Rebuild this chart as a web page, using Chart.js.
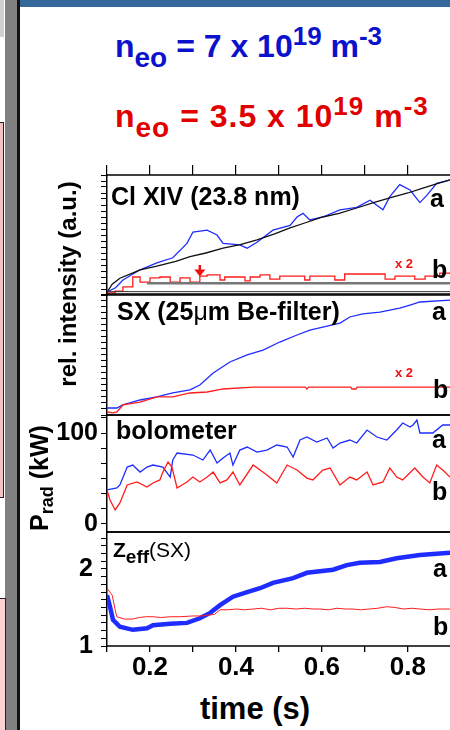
<!DOCTYPE html>
<html>
<head>
<meta charset="utf-8">
<script src="https://cdn.jsdelivr.net/npm/chart.js@4.4.0/dist/chart.umd.min.js"></script>
<style>
  html, body { margin: 0; padding: 0; background: #fff; }
  body { width: 450px; height: 730px; position: relative; overflow: hidden;
         font-family: "Liberation Sans", Arial, Helvetica, sans-serif; }
  canvas { position: absolute; left: 0; }
  .deco { position: absolute; }
  .t { position: absolute; white-space: nowrap; line-height: 1; font-weight: bold; color: #000; }
  .title { font-size: 32px; }
  .title .sub { font-size: 28px; position: relative; top: 10px; }
  .title .sup { font-size: 26px; position: relative; top: -12px; }
  .lab { font-size: 25px; }
  .ab { font-size: 25px; }
  .x2 { font-size: 13px; color: #ee1111; }
  .rot { transform: rotate(-90deg); text-align: center; }
</style>
</head>
<body>

<!-- slide chrome on the left and top -->
<div class="deco" style="left:0;top:0;width:4px;height:37px;background:#cfcfcf"></div>
<div class="deco" style="left:5px;top:0;width:13px;height:730px;background:#808080"></div>
<div class="deco" style="left:17px;top:0;width:2.5px;height:730px;background:#111"></div>
<div class="deco" style="left:-3px;top:122px;width:5px;height:374px;border:1.5px solid #222;background:#f0c4c4"></div>
<div class="deco" style="left:-3px;top:598px;width:7px;height:140px;border:1.5px solid #222;background:#fcd2d2"></div>
<div class="deco" style="left:20px;top:0;width:430px;height:7px;background:#34679a"></div>

<div class="t title" style="left:115px;top:30px;color:#0c12cc">n<span class="sub">eo</span> = 7 x 10<span class="sup">19</span> m<span class="sup">-3</span></div>
<div class="t title" style="left:115px;top:100px;color:#e00000;letter-spacing:1px">n<span class="sub">eo</span> = 3.5 x 10<span class="sup">19</span> m<span class="sup">-3</span></div>

<canvas id="pCl" width="450" height="139" style="top:160px"></canvas>
<canvas id="pSx" width="450" height="129" style="top:290px"></canvas>
<canvas id="pBolo" width="450" height="125" style="top:411px"></canvas>
<canvas id="pZeff" width="450" height="154" style="top:528px"></canvas>

<!-- panel captions -->
<div class="t lab" style="left:111px;top:184px">Cl XIV (23.8 nm)</div>
<div class="t lab" style="left:117px;top:299px">SX (25<span style="font-weight:normal">μ</span>m Be-filter)</div>
<div class="t lab" style="left:116px;top:418px">bolometer</div>
<div class="t" style="left:113px;top:539px;font-size:21px">Z<span style="font-size:19px;position:relative;top:6px">eff</span><span style="font-weight:normal;font-size:21px">(SX)</span></div>

<div class="t ab" style="left:430px;top:186px">a</div>
<div class="t ab" style="left:432px;top:257px">b</div>
<div class="t ab" style="left:432px;top:299px">a</div>
<div class="t ab" style="left:433px;top:377px">b</div>
<div class="t ab" style="left:432px;top:427px">a</div>
<div class="t ab" style="left:432px;top:479px">b</div>
<div class="t ab" style="left:433px;top:556px">a</div>
<div class="t ab" style="left:433px;top:614px">b</div>

<div class="t x2" style="left:395px;top:257px">x 2</div>
<div class="t x2" style="left:395px;top:366px">x 2</div>

<!-- axis titles -->
<div class="t rot" style="left:-47px;top:269px;width:230px;height:30px;line-height:30px;font-size:24px">rel. intensity (a.u.)</div>
<div class="t rot" style="left:-21px;top:463px;width:120px;height:30px;line-height:30px;font-size:25px">P<span style="font-size:18px;position:relative;top:5px">rad</span> (kW)</div>
<div class="t" style="left:155px;top:693px;width:200px;text-align:center;font-size:31px">time (s)</div>

<script>
/* time axis shared by all panels (s) */
const tMin = 0.1, tMax = 0.898;

/* Cl XIV line intensity, a.u. (black = reference trace) */
const clRefT = [0.100, 0.105, 0.112, 0.130, 0.177, 0.216, 0.260, 0.293, 0.330, 0.370, 0.410, 0.449, 0.490, 0.526, 0.560, 0.602, 0.640, 0.681, 0.720, 0.758, 0.800, 0.835, 0.870, 0.898];
const clRefY = [2.5, 5, 9, 14, 21, 24, 28, 32, 35, 39, 42, 46, 51, 56, 60, 65, 68, 72.5, 77, 81, 85, 89, 93, 96];
const clBlueT = [0.100, 0.120, 0.137, 0.177, 0.216, 0.253, 0.286, 0.300, 0.333, 0.356, 0.370, 0.409, 0.426, 0.449, 0.486, 0.526, 0.542, 0.556, 0.572, 0.602, 0.642, 0.681, 0.712, 0.742, 0.758, 0.781, 0.805, 0.828, 0.844, 0.867, 0.891, 0.898];
const clBlueY = [2.5, 6, 12.5, 21, 26.7, 31, 43, 52.5, 54, 50, 43, 41.7, 39, 44, 54, 58, 65, 68, 62.5, 65, 71, 73, 79, 71, 82, 92, 87.5, 77, 83, 93, 95, 96];
const clRedT = [0.100, 0.119, 0.137, 0.160, 0.177, 0.200, 0.223, 0.247, 0.270, 0.293, 0.316, 0.333, 0.363, 0.374, 0.421, 0.433, 0.456, 0.479, 0.502, 0.560, 0.572, 0.630, 0.653, 0.747, 0.770, 0.816, 0.840, 0.874, 0.898];
const clRedY = [1.7, 3.3, 6.7, 15, 10.8, 14.2, 15, 10.8, 14.2, 10.8, 15.8, 16.7, 12.5, 15, 11.7, 15, 16.7, 13.3, 15.8, 12.5, 15.8, 12.5, 17.5, 13.3, 15.8, 13.3, 15.8, 18.3, 17.5];
const clBaseT = [0.193, 0.898];
const clBaseY = [9.7, 9.7];
const clZeroT = [0.100, 0.898];
const clZeroY = [2.8, 2.8];
const arrowT = 0.316, arrowFrom = 25, arrowTo = 15.5;

/* soft X-ray, 25 um Be filter, a.u. */
const sxBlueT = [0.100, 0.123, 0.137, 0.177, 0.216, 0.253, 0.293, 0.316, 0.347, 0.386, 0.426, 0.463, 0.502, 0.542, 0.572, 0.602, 0.642, 0.665, 0.695, 0.735, 0.781, 0.805, 0.828, 0.898];
const sxBlueY = [5.8, 5.8, 8.3, 12.4, 14.9, 18.2, 20.7, 24.8, 34.7, 43.8, 49.6, 53.7, 60.3, 66.1, 70.2, 72.7, 76, 81, 83.5, 85.1, 88.4, 90.9, 93.4, 95];
const sxRedT = [0.100, 0.114, 0.123, 0.137, 0.177, 0.216, 0.253, 0.293, 0.333, 0.370, 0.440, 0.561, 0.565, 0.569, 0.667, 0.670, 0.679, 0.682, 0.898];
const sxRedY = [2.5, 1.7, 2.5, 8.3, 10.7, 14.9, 14.9, 18.2, 19, 21.5, 23.1, 23.1, 21.5, 23.1, 23.1, 21.5, 21.5, 23.1, 23.1];

/* bolometer, P_rad in kW */
const boloBlueT = [0.100, 0.123, 0.130, 0.147, 0.160, 0.177, 0.193, 0.207, 0.230, 0.247, 0.253, 0.263, 0.300, 0.323, 0.340, 0.356, 0.370, 0.386, 0.393, 0.409, 0.426, 0.449, 0.472, 0.495, 0.519, 0.533, 0.549, 0.565, 0.588, 0.612, 0.626, 0.642, 0.665, 0.681, 0.705, 0.728, 0.751, 0.774, 0.788, 0.805, 0.812, 0.821, 0.828, 0.858, 0.881, 0.898];
const boloBlueY = [37.4, 39.6, 42.9, 62.6, 64.8, 57.1, 62.6, 64.8, 62.6, 51.6, 70.3, 78, 75.8, 70.3, 81.3, 67, 72.5, 78, 64.8, 81.3, 84.6, 79.1, 81.3, 86.8, 84.6, 73.6, 92.3, 95.6, 90.1, 94.5, 83.5, 89, 92.3, 89, 103.3, 95.6, 92.3, 103.3, 111, 106.6, 108.8, 114.3, 100, 100, 108.8, 108.8];
const boloRedT = [0.100, 0.107, 0.119, 0.130, 0.147, 0.170, 0.193, 0.207, 0.223, 0.230, 0.242, 0.251, 0.263, 0.286, 0.300, 0.316, 0.333, 0.347, 0.363, 0.379, 0.393, 0.409, 0.440, 0.472, 0.495, 0.519, 0.542, 0.565, 0.579, 0.602, 0.619, 0.642, 0.665, 0.681, 0.705, 0.719, 0.742, 0.758, 0.774, 0.788, 0.816, 0.835, 0.851, 0.867, 0.881, 0.898];
const boloRedY = [37.4, 26.4, 15.4, 23.1, 42.9, 46.2, 40.7, 45.1, 48.4, 57.1, 68.1, 62.6, 39.6, 46.2, 51.6, 46.2, 51.6, 57.1, 45.1, 48.4, 57.1, 42.9, 64.8, 53.8, 45.1, 64.8, 59.3, 50.5, 48.4, 59.3, 61.5, 42.9, 51.6, 48.4, 57.1, 42.9, 46.2, 61.5, 51.6, 48.4, 61.5, 51.6, 45.1, 64.8, 59.3, 51.6];

/* Z_eff from soft X-ray */
const zeffBlueT = [0.100, 0.107, 0.114, 0.130, 0.160, 0.193, 0.207, 0.247, 0.286, 0.316, 0.340, 0.363, 0.393, 0.426, 0.456, 0.486, 0.533, 0.565, 0.626, 0.658, 0.688, 0.735, 0.774, 0.828, 0.898];
const zeffBlueY = [1.66, 1.51, 1.34, 1.25, 1.21, 1.23, 1.27, 1.29, 1.30, 1.36, 1.43, 1.53, 1.64, 1.70, 1.75, 1.82, 1.88, 1.95, 1.99, 2.05, 2.08, 2.09, 2.14, 2.18, 2.21];
const zeffRedT = [0.100, 0.112, 0.119, 0.123, 0.140, 0.160, 0.175, 0.190, 0.207, 0.225, 0.247, 0.270, 0.300, 0.320, 0.333, 0.350, 0.363, 0.380, 0.402, 0.420, 0.440, 0.460, 0.480, 0.500, 0.519, 0.540, 0.560, 0.580, 0.595, 0.615, 0.635, 0.655, 0.672, 0.690, 0.710, 0.730, 0.751, 0.770, 0.790, 0.810, 0.828, 0.850, 0.870, 0.898];
const zeffRedY = [1.75, 1.66, 1.47, 1.38, 1.35, 1.35, 1.37, 1.38, 1.38, 1.37, 1.38, 1.38, 1.39, 1.39, 1.40, 1.41, 1.47, 1.47, 1.48, 1.47, 1.48, 1.49, 1.47, 1.49, 1.49, 1.48, 1.49, 1.48, 1.48, 1.47, 1.49, 1.48, 1.48, 1.47, 1.48, 1.49, 1.51, 1.50, 1.48, 1.49, 1.48, 1.47, 1.48, 1.48];

const BLUE = '#1f2cff', RED = '#ff1c1c', FONT = '"Liberation Sans", Arial, sans-serif';

function pts(ts, ys) { return ts.map((t, i) => ({ x: t, y: ys[i] })); }
function line(ts, ys, color, width, extra) {
  return Object.assign({ data: pts(ts, ys), borderColor: color, borderWidth: width,
    pointRadius: 0, tension: 0, fill: false }, extra || {});
}
function range(a, b, step) {
  const out = [];
  for (let v = a; v <= b + 1e-9; v += step) out.push(+v.toFixed(4));
  return out;
}

/* ticks every 0.1 s */
function timeTicks(scale) {
  scale.ticks = range(0.1, 0.9, 0.1).filter(v => v <= scale.max + 1e-9).map(v => ({ value: v }));
}

/* black frame lines above and below each panel */
const framePlugin = {
  id: 'frame',
  afterDatasetsDraw(chart) {
    const a = chart.chartArea, ctx = chart.ctx;
    ctx.save();
    ctx.strokeStyle = '#000';
    ctx.lineWidth = 1.5;
    ctx.beginPath();
    ctx.moveTo(a.left, a.top); ctx.lineTo(a.right, a.top);
    ctx.moveTo(a.left, a.bottom); ctx.lineTo(a.right, a.bottom);
    ctx.stroke();
    ctx.restore();
  }
};

/* red arrow marking the onset on the Cl XIV trace */
const arrowPlugin = {
  id: 'arrow',
  afterDatasetsDraw(chart) {
    const x = chart.scales.x.getPixelForValue(arrowT);
    const y0 = chart.scales.y.getPixelForValue(arrowFrom);
    const y1 = chart.scales.y.getPixelForValue(arrowTo);
    const ctx = chart.ctx;
    ctx.save();
    ctx.strokeStyle = ctx.fillStyle = '#ee1111';
    ctx.lineWidth = 2.5;
    ctx.beginPath(); ctx.moveTo(x, y0); ctx.lineTo(x, y1 - 5); ctx.stroke();
    ctx.beginPath(); ctx.moveTo(x - 5.5, y1 - 7); ctx.lineTo(x + 5.5, y1 - 7); ctx.lineTo(x, y1); ctx.closePath(); ctx.fill();
    ctx.restore();
  }
};

function makePanel(id, p) {
  const scales = {
    x: {
      type: 'linear', min: tMin, max: tMax, position: 'bottom',
      display: p.xAxis === 'bottom',
      afterBuildTicks: timeTicks,
      afterFit: s => {
        s.height = p.xAxis === 'bottom' ? 36 : 0;
        s.paddingLeft = 0; s.paddingRight = 0;
      },
      grid: { drawOnChartArea: false, tickLength: 6, color: '#000', lineWidth: 1.3 },
      border: { display: false },
      ticks: {
        autoSkip: false, maxRotation: 0, padding: 0, color: '#000',
        font: { family: FONT, size: 26, weight: 'bold' },
        callback: v => (Math.round(v * 10) % 2 === 0 ? v.toFixed(1) : '')
      }
    },
    y: {
      type: 'linear', min: p.yMin, max: p.yMax,
      afterBuildTicks: s => { s.ticks = p.yTicks.map(v => ({ value: v })); },
      afterFit: s => { s.width = 107; s.paddingTop = 0; s.paddingBottom = 0; },
      grid: { drawOnChartArea: false, tickLength: 6, color: '#000', lineWidth: 1 },
      border: { display: true, color: '#000', width: 1.5 },
      ticks: {
        autoSkip: false, padding: p.yPad || 4, color: '#000',
        font: { family: FONT, size: 25, weight: 'bold' },
        callback: p.yLabel || (() => '')
      }
    }
  };
  if (p.xAxis === 'top') {
    scales.xTop = {
      type: 'linear', min: tMin, max: tMax, position: 'top',
      afterBuildTicks: timeTicks,
      afterFit: s => { s.height = 15; s.paddingLeft = 0; s.paddingRight = 0; },
      grid: { drawOnChartArea: false, tickLength: 10, color: '#000', lineWidth: 1.2 },
      border: { display: false },
      ticks: { autoSkip: false, maxRotation: 0, padding: 0, callback: () => '' }
    };
  }
  return new Chart(document.getElementById(id), {
    type: 'line',
    data: { datasets: p.datasets },
    options: {
      responsive: false, animation: false, devicePixelRatio: 1,
      layout: { padding: { top: p.padTop, bottom: p.padBottom, left: 0, right: 0 } },
      plugins: { legend: { display: false }, tooltip: { enabled: false } },
      scales: scales
    },
    plugins: [framePlugin].concat(p.plugins || [])
  });
}

makePanel('pCl', {
  xAxis: 'top', padTop: 0, padBottom: 4,
  yMin: 0, yMax: 100, yTicks: range(0, 100, 5),
  datasets: [
    line(clZeroT, clZeroY, '#333', 1),
    line(clBaseT, clBaseY, '#777', 2.5),
    line(clRefT, clRefY, '#111', 1.3),
    line(clBlueT, clBlueY, BLUE, 1.3),
    line(clRedT, clRedY, RED, 1.3, { stepped: true })
  ],
  plugins: [arrowPlugin]
});

makePanel('pSx', {
  xAxis: null, padTop: 4, padBottom: 4,
  yMin: 0, yMax: 100, yTicks: range(0, 100, 5),
  datasets: [
    line(sxRedT, sxRedY, RED, 1.3),
    line(sxBlueT, sxBlueY, BLUE, 1.3)
  ]
});

makePanel('pBolo', {
  xAxis: null, padTop: 4, padBottom: 4,
  yMin: -8.8, yMax: 119.8, yTicks: range(0, 7, 1).map(k => k * 100 / 6),
  yPad: 3,
  yLabel: v => (Math.abs(v) < 0.01 ? '0' : Math.abs(v - 100) < 0.01 ? '100' : ''),
  datasets: [
    line(boloRedT, boloRedY, RED, 1.3),
    line(boloBlueT, boloBlueY, BLUE, 1.3)
  ]
});

makePanel('pZeff', {
  xAxis: 'bottom', padTop: 4, padBottom: 0,
  yMin: 1, yMax: 2.48, yTicks: range(1, 2.4, 0.1),
  yPad: 8,
  yLabel: v => (Math.abs(v - 1) < 0.01 ? '1' : Math.abs(v - 2) < 0.01 ? '2' : ''),
  datasets: [
    line(zeffRedT, zeffRedY, RED, 1),
    line(zeffBlueT, zeffBlueY, BLUE, 4.5)
  ]
});
</script>
</body>
</html>
